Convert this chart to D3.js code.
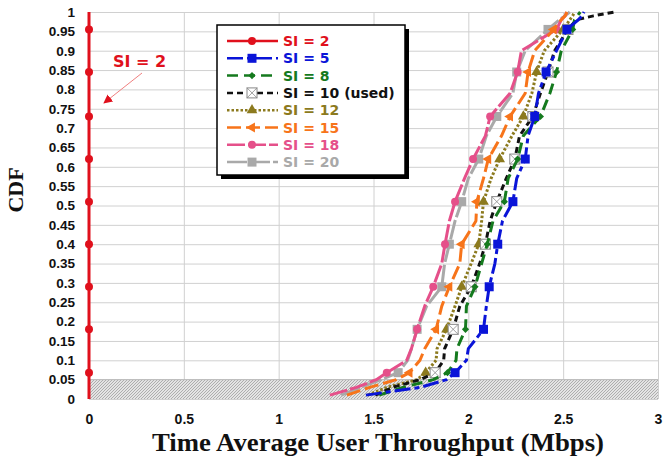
<!DOCTYPE html>
<html lang="en">
<head>
<meta charset="UTF-8">
<title>CDF of Time Average User Throughput</title>
<script src="https://d3js.org/d3.v7.min.js"></script>
<style>
    body { margin: 0; background: #fff; }
    svg { display: block; font-family: 'DejaVu Sans', Verdana, sans-serif; }
    .tick-label { font-weight: bold; font-size: 14px; fill: #111; }
    .axis-title { font-family: 'Liberation Serif', 'Times New Roman', serif; font-weight: bold; fill: #111; }
    .grid line { stroke: #d0d0d0; stroke-width: 1; }
    .legend-text { font-weight: bold; font-size: 14px; }
</style>
</head>
<body>
<div id="chart"></div>
<script>
// CDF levels shared by all curves
const levels = [0.01, 0.03, 0.05, 0.068, 0.1, 0.13, 0.18, 0.24, 0.29, 0.35, 0.40, 0.46,
                0.51, 0.57, 0.62, 0.68, 0.73, 0.79, 0.845, 0.90, 0.955, 0.98, 0.99, 1.0];
// levels carrying a marker
const markerLevels = [0.068, 0.18, 0.29, 0.40, 0.51, 0.62, 0.73, 0.845, 0.955];

const si2  = levels.map(() => 0);
const si5  = [1.46, 1.745, 1.885, 1.93, 1.99, 2.0, 2.08, 2.095, 2.11, 2.14, 2.155, 2.18,
              2.235, 2.255, 2.30, 2.315, 2.35, 2.37, 2.41, 2.465, 2.52, 2.58, 2.60, 2.61];
const si8  = [1.53, 1.655, 1.815, 1.89, 1.935, 1.94, 1.985, 1.99, 2.035, 2.07, 2.10, 2.13,
              2.19, 2.21, 2.26, 2.29, 2.38, 2.43, 2.465, 2.49, 2.55, 2.56, 2.575, 2.59];
const si10 = [1.51, 1.60, 1.745, 1.825, 1.87, 1.875, 1.92, 1.955, 2.015, 2.06, 2.09, 2.115,
              2.15, 2.20, 2.245, 2.27, 2.34, 2.38, 2.42, 2.455, 2.525, 2.57, 2.66, 2.77];
const si12 = [1.47, 1.57, 1.73, 1.775, 1.83, 1.835, 1.885, 1.93, 1.965, 2.015, 2.055, 2.07,
              2.08, 2.12, 2.165, 2.23, 2.29, 2.335, 2.36, 2.40, 2.50, 2.535, 2.55, 2.56];
const si15 = [1.36, 1.48, 1.62, 1.69, 1.745, 1.77, 1.83, 1.86, 1.90, 1.955, 1.965, 2.04,
              2.045, 2.08, 2.105, 2.175, 2.22, 2.30, 2.315, 2.35, 2.45, 2.49, 2.51, 2.52];
const si18 = [1.27, 1.41, 1.515, 1.57, 1.675, 1.70, 1.73, 1.77, 1.815, 1.86, 1.877, 1.90,
              1.93, 1.98, 2.025, 2.09, 2.115, 2.22, 2.26, 2.28, 2.465, 2.49, 2.51, 2.52];
const si20 = [1.33, 1.43, 1.54, 1.63, 1.68, 1.70, 1.73, 1.78, 1.86, 1.875, 1.90, 1.93,
              1.965, 2.0, 2.055, 2.095, 2.15, 2.235, 2.255, 2.30, 2.42, 2.48, 2.51, 2.535];

const seriesNames = ["SI = 2", "SI = 5", "SI = 8", "SI = 10 (used)", "SI = 12", "SI = 15", "SI = 18", "SI = 20"];
const seriesValues = [si2, si5, si8, si10, si12, si15, si18, si20];

const xTicks = [0, 0.5, 1, 1.5, 2, 2.5, 3];
const yTicks = d3.range(0, 1.0001, 0.05).map(v => +v.toFixed(2));

// drawing styles per series
const styles = [
    { color: "#e0101c", dash: null,             width: 3,   marker: "circle" },
    { color: "#0a14d8", dash: "16,4,5,4",       width: 3,   marker: "square" },
    { color: "#157a1e", dash: "11,6",           width: 3,   marker: "diamond" },
    { color: "#111111", dash: "6,4",            width: 3,   marker: "xbox" },
    { color: "#8c7a1e", dash: "2.5,2",          width: 3,   marker: "triangle" },
    { color: "#f7741a", dash: "14,5",           width: 3,   marker: "arrow" },
    { color: "#e5508a", dash: "18,3",           width: 3,   marker: "circle" },
    { color: "#a9a9a9", dash: "20,3",           width: 3,   marker: "square" }
];

const W = 664, H = 459;
const plot = { left: 89, right: 658, top: 12, bottom: 399 };

const svg = d3.select("#chart").append("svg").attr("width", W).attr("height", H);

const x = d3.scaleLinear().domain([0, 3]).range([plot.left, plot.right]);
const y = d3.scaleLinear().domain([0, 1]).range([plot.bottom, plot.top]);

// hatch pattern for the 0-0.05 band
const defs = svg.append("defs");
const pat = defs.append("pattern").attr("id", "hatch").attr("patternUnits", "userSpaceOnUse")
    .attr("width", 3).attr("height", 3);
pat.append("rect").attr("width", 3).attr("height", 3).attr("fill", "#e4e4e4");
pat.append("path").attr("d", "M0,3 L3,0").attr("stroke", "#a0a0a0").attr("stroke-width", 0.8);

defs.append("marker").attr("id", "arrowhead").attr("viewBox", "0 0 10 10")
    .attr("refX", 9).attr("refY", 5).attr("markerWidth", 9).attr("markerHeight", 9)
    .attr("orient", "auto").attr("markerUnits", "userSpaceOnUse")
    .append("path").attr("d", "M0,0 L10,5 L0,10 Z").attr("fill", "#e0101c");

// gridlines
svg.append("g").attr("class", "grid")
    .attr("transform", `translate(0,${plot.bottom})`)
    .call(d3.axisBottom(x).tickValues(xTicks).tickSize(-(plot.bottom - plot.top)).tickFormat(""))
    .call(g => g.select(".domain").remove());
svg.append("g").attr("class", "grid")
    .attr("transform", `translate(${plot.left},0)`)
    .call(d3.axisLeft(y).tickValues(yTicks).tickSize(-(plot.right - plot.left)).tickFormat(""))
    .call(g => g.select(".domain").remove());

// shaded band
svg.append("rect")
    .attr("x", x(0)).attr("y", y(0.05))
    .attr("width", x(3) - x(0)).attr("height", y(0) - y(0.05))
    .attr("fill", "url(#hatch)");
svg.append("line")
    .attr("x1", x(0)).attr("x2", x(3)).attr("y1", y(0.05)).attr("y2", y(0.05))
    .attr("stroke", "#b8b8b8").attr("stroke-width", 1);

// tick labels
svg.append("g")
    .attr("transform", `translate(0,${plot.bottom})`)
    .call(d3.axisBottom(x).tickValues(xTicks).tickSize(0).tickPadding(15).tickFormat(d3.format("")))
    .call(g => g.select(".domain").remove())
    .selectAll("text").attr("class", "tick-label").attr("font-family", null).attr("font-size", null);
svg.append("g")
    .attr("transform", `translate(${plot.left},0)`)
    .call(d3.axisLeft(y).tickValues(yTicks).tickSize(0).tickPadding(14).tickFormat(d3.format("")))
    .call(g => g.select(".domain").remove())
    .selectAll("text").attr("class", "tick-label").attr("font-family", null).attr("font-size", null)
    .style("font-size", "13.5px");

// axis titles
svg.append("text").attr("class", "axis-title")
    .attr("transform", `translate(23,190) rotate(-90)`)
    .attr("text-anchor", "middle").attr("font-size", 22).text("CDF");
svg.append("text").attr("class", "axis-title")
    .attr("x", 378).attr("y", 451)
    .attr("text-anchor", "middle").attr("font-size", 25)
    .attr("textLength", 452).attr("lengthAdjust", "spacingAndGlyphs")
    .text("Time Average User Throughput (Mbps)");

function drawMarker(g, type, color, cx, cy) {
    if (type === "circle") {
        g.append("circle").attr("cx", cx).attr("cy", cy).attr("r", 4).attr("fill", color);
    } else if (type === "square") {
        g.append("rect").attr("x", cx - 4.5).attr("y", cy - 4.5).attr("width", 9).attr("height", 9).attr("fill", color);
    } else if (type === "diamond") {
        g.append("path").attr("transform", `translate(${cx},${cy}) rotate(45)`)
            .attr("d", d3.symbol(d3.symbolSquare, 26)()).attr("fill", color);
    } else if (type === "triangle") {
        g.append("path").attr("transform", `translate(${cx},${cy})`)
            .attr("d", d3.symbol(d3.symbolTriangle, 50)()).attr("fill", color);
    } else if (type === "arrow") {
        g.append("path").attr("transform", `translate(${cx},${cy}) rotate(-90)`)
            .attr("d", d3.symbol(d3.symbolTriangle, 45)()).attr("fill", color);
    } else if (type === "xbox") {
        const s = 5;
        g.append("rect").attr("x", cx - s).attr("y", cy - s).attr("width", 2 * s).attr("height", 2 * s)
            .attr("fill", "#fff").attr("stroke", "#888").attr("stroke-width", 1);
        g.append("path").attr("d", `M${cx - s},${cy - s}L${cx + s},${cy + s}M${cx + s},${cy - s}L${cx - s},${cy + s}`)
            .attr("stroke", "#888").attr("stroke-width", 0.8);
    }
}

// curves, drawn back to front so SI=2 and SI=5 sit on top
const line = d3.line().x(d => x(d[0])).y(d => y(d[1]));
const order = [7, 6, 5, 4, 3, 2, 1, 0];
order.forEach(i => {
    const st = styles[i];
    const pts = seriesValues[i].map((v, k) => [v, levels[k]]);
    const data = i === 0 ? [[0, 0], ...pts] : pts;
    const g = svg.append("g");
    g.append("path").datum(data)
        .attr("d", line)
        .attr("fill", "none")
        .attr("stroke", st.color)
        .attr("stroke-width", st.width)
        .attr("stroke-dasharray", st.dash)
        .attr("stroke-linejoin", "round");
    pts.filter(p => markerLevels.includes(p[1]))
        .forEach(p => drawMarker(g, st.marker, st.color, x(p[0]), y(p[1])));
});

// "SI = 2" annotation
svg.append("text").attr("x", 113).attr("y", 67)
    .attr("fill", "#e0101c").attr("font-weight", "bold").attr("font-size", 16).text("SI = 2");
svg.append("line").attr("x1", 142).attr("y1", 73).attr("x2", 104).attr("y2", 103)
    .attr("stroke", "#f08080").attr("stroke-width", 1).attr("marker-end", "url(#arrowhead)");

// legend
const lg = { x: 217, y: 25, w: 188, h: 150 };
svg.append("rect").attr("x", lg.x + 4).attr("y", lg.y + 4).attr("width", lg.w).attr("height", lg.h).attr("fill", "#000");
svg.append("rect").attr("x", lg.x).attr("y", lg.y).attr("width", lg.w).attr("height", lg.h)
    .attr("fill", "#fff").attr("stroke", "#000").attr("stroke-width", 1.5);
seriesNames.forEach((name, i) => {
    const st = styles[i];
    const ly = 41 + i * 17.3;
    const g = svg.append("g");
    g.append("line").attr("x1", 227).attr("x2", 278).attr("y1", ly).attr("y2", ly)
        .attr("stroke", st.color).attr("stroke-width", 2.5).attr("stroke-dasharray", st.dash);
    drawMarker(g, st.marker, st.color, 252, ly);
    g.append("text").attr("class", "legend-text").attr("x", 283).attr("y", ly + 5)
        .attr("fill", st.color).text(name);
});
</script>
</body>
</html>
